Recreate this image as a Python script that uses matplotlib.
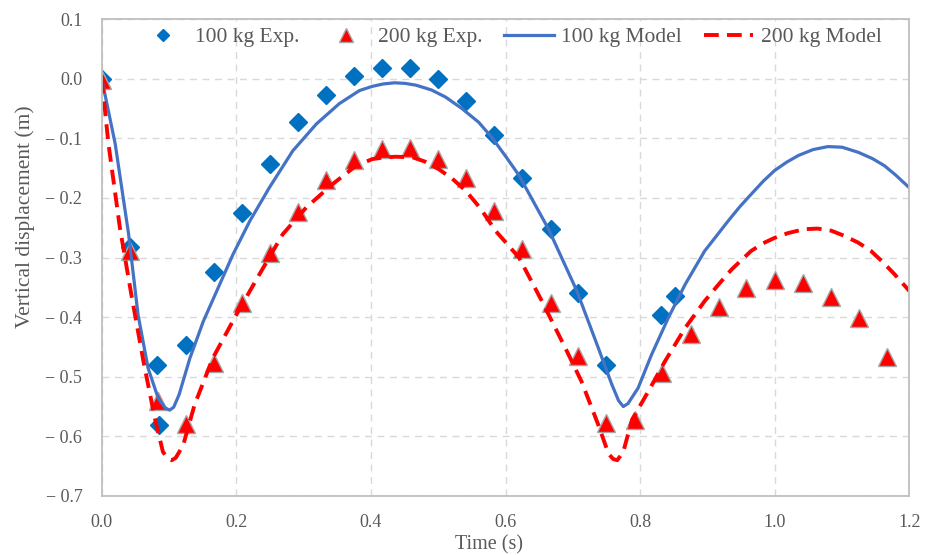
import matplotlib
matplotlib.use("Agg")
import matplotlib.pyplot as plt

# experimental points
t_exp_100 = [0.000, 0.042, 0.082, 0.085, 0.125, 0.167, 0.208, 0.250, 0.292, 0.333, 0.375,
             0.417, 0.458, 0.500, 0.542, 0.583, 0.625, 0.667, 0.708, 0.750, 0.831, 0.852]
d_exp_100 = [0.000, -0.282, -0.481, -0.581, -0.446, -0.324, -0.225, -0.143, -0.073, -0.027, 0.004,
             0.017, 0.017, -0.001, -0.038, -0.095, -0.166, -0.252, -0.359, -0.481, -0.396, -0.364]

t_exp_200 = [0.000, 0.042, 0.083, 0.125, 0.167, 0.208, 0.250, 0.292, 0.333, 0.375, 0.417, 0.458,
             0.500, 0.542, 0.583, 0.625, 0.667, 0.708, 0.750, 0.792, 0.833, 0.875, 0.917, 0.958,
             1.000, 1.042, 1.083, 1.125, 1.167]
d_exp_200 = [-0.002, -0.289, -0.541, -0.580, -0.477, -0.376, -0.292, -0.223, -0.170, -0.136, -0.118, -0.117,
             -0.134, -0.167, -0.222, -0.286, -0.376, -0.466, -0.578, -0.572, -0.494, -0.428, -0.383, -0.351,
             -0.337, -0.342, -0.366, -0.401, -0.467]

# model curves
t_mod_100 = [0.000, 0.020, 0.040, 0.054, 0.069, 0.084, 0.094, 0.101, 0.107, 0.115, 0.131, 0.151,
             0.173, 0.195, 0.220, 0.249, 0.284, 0.319, 0.353, 0.383, 0.402, 0.418, 0.435, 0.451,
             0.467, 0.490, 0.511, 0.535, 0.560, 0.580, 0.600, 0.620, 0.635, 0.664, 0.706, 0.738,
             0.758, 0.768, 0.775, 0.782, 0.797, 0.817, 0.842, 0.867, 0.896, 0.931, 0.948, 0.965,
             0.983, 1.000, 1.018, 1.035, 1.057, 1.079, 1.100, 1.124, 1.145, 1.163, 1.180, 1.200]
d_mod_100 = [0.000, -0.109, -0.261, -0.396, -0.486, -0.536, -0.552, -0.556, -0.551, -0.530, -0.469, -0.407,
             -0.351, -0.295, -0.239, -0.183, -0.121, -0.076, -0.042, -0.020, -0.013, -0.009, -0.007, -0.008,
             -0.011, -0.019, -0.031, -0.050, -0.073, -0.099, -0.130, -0.162, -0.193, -0.2525, -0.356, -0.452,
             -0.513, -0.540, -0.550, -0.545, -0.519, -0.463, -0.401, -0.345, -0.289, -0.2385, -0.215, -0.194,
             -0.172, -0.154, -0.140, -0.129, -0.119, -0.114, -0.115, -0.1235, -0.134, -0.146, -0.162, -0.183]

t_mod_200 = [0.000, 0.010, 0.027, 0.044, 0.062, 0.079, 0.091, 0.098, 0.104, 0.110, 0.121, 0.138,
             0.165, 0.200, 0.2345, 0.269, 0.304, 0.343, 0.378, 0.402, 0.420, 0.437, 0.462, 0.480,
             0.501, 0.521, 0.541, 0.563, 0.585, 0.620, 0.654, 0.689, 0.713, 0.738, 0.753, 0.760,
             0.766, 0.775, 0.788, 0.812, 0.837, 0.867, 0.896, 0.916, 0.936, 0.965, 0.983, 1.000,
             1.020, 1.044, 1.064, 1.084, 1.104, 1.124, 1.143, 1.160, 1.178, 1.200]
d_mod_200 = [0.000, -0.109, -0.250, -0.362, -0.474, -0.570, -0.626, -0.637, -0.640, -0.636, -0.615, -0.547,
             -0.469, -0.396, -0.328, -0.261, -0.216, -0.177, -0.146, -0.135, -0.132, -0.131, -0.132, -0.139,
             -0.152, -0.168, -0.188, -0.218, -0.255, -0.300, -0.373, -0.452, -0.508, -0.581, -0.629, -0.638,
             -0.640, -0.626, -0.572, -0.525, -0.474, -0.418, -0.373, -0.346, -0.320, -0.289, -0.276, -0.267,
             -0.259, -0.2525, -0.2515, -0.255, -0.264, -0.275, -0.289, -0.307, -0.328, -0.356]

x_ticks = [0.0, 0.2, 0.4, 0.6, 0.8, 1.0, 1.2]
y_ticks = [0.1, 0.0, -0.1, -0.2, -0.3, -0.4, -0.5, -0.6, -0.7]

plt.rcParams['font.family'] = ['Liberation Serif', 'DejaVu Serif']
txt_color = '#595959'

fig = plt.figure(figsize=(9.26, 5.55), dpi=100)
ax = fig.add_axes([101.7 / 926, 1 - 496 / 555, (909.3 - 101.7) / 926, (496 - 19) / 555])

ax.plot(t_exp_100, d_exp_100, linestyle='none', marker='D', ms=8.8,
        color='#0070C0', markeredgecolor='#0070C0', label='100 kg Exp.')
ax.plot(t_exp_200, d_exp_200, linestyle='none', marker='^', ms=13.5,
        color='#FF0000', markeredgecolor='#A6A6A6', markeredgewidth=1.0, label='200 kg Exp.')
ax.plot(t_mod_100, d_mod_100, color='#4472C4', lw=2.3, solid_joinstyle='round', label='100 kg Model')
ax.plot(t_mod_200, d_mod_200, color='#FF0000', lw=2.8, dashes=(3.8, 2.1), label='200 kg Model')

ax.set_xlim(0, 1.2)
ax.set_ylim(-0.7, 0.1)
ax.set_xticks(x_ticks)
ax.set_xticklabels(['%.1f' % v for v in x_ticks])
ax.set_yticks(y_ticks)
ax.set_yticklabels([('\u2212 %.1f' % abs(v)) if v < 0 else '%.1f' % v for v in y_ticks])
ax.tick_params(length=0, labelsize=13, colors=txt_color)
ax.tick_params(axis='y', pad=14)
ax.tick_params(axis='x', pad=13)

ax.grid(True, color='#D9D9D9', linestyle=(0, (5, 4)), linewidth=1.0)
ax.set_axisbelow(True)
for s in ax.spines.values():
    s.set_color('#BFBFBF')
    s.set_linewidth(1.3)

ax.set_xlabel('Time (s)', fontsize=14.5, color=txt_color)
ax.xaxis.set_label_coords(0.48, -0.103)
ax.xaxis.label.set_va('center')
ax.set_ylabel('Vertical displacement (m)', fontsize=15.5, color=txt_color)
ax.yaxis.set_label_coords(-0.095, 0.585)
ax.yaxis.label.set_va('center')

leg = ax.legend(loc='center', bbox_to_anchor=(0.5056, 0.962), ncol=4, frameon=False,
                fontsize=15.5, handlelength=2.3, handletextpad=0.35, columnspacing=1.0,
                markerscale=0.7)
for t in leg.get_texts():
    t.set_color(txt_color)

fig.savefig('out.png', dpi=100)
